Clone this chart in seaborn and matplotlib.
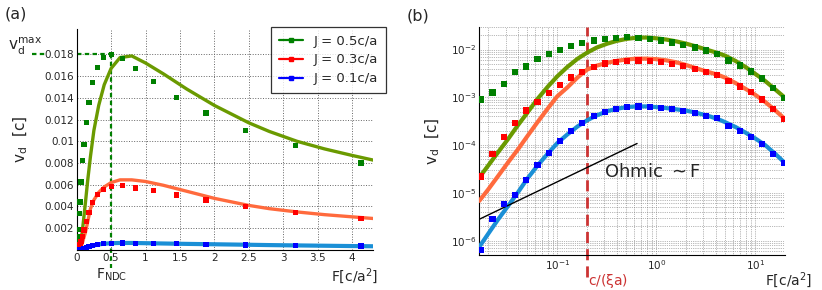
import numpy as np
import matplotlib
matplotlib.use('Agg')
import matplotlib.pyplot as plt
import matplotlib.transforms as mtransforms
from matplotlib.lines import Line2D
from matplotlib.ticker import FuncFormatter, FixedLocator
import seaborn as sns

# simulated points (same F grid for the three couplings)
F_pts = [0.0171, 0.0222, 0.0288, 0.0374, 0.0485, 0.0630, 0.0818, 0.106, 0.138, 0.179,
         0.233, 0.302, 0.393, 0.510, 0.662, 0.860, 1.12, 1.45, 1.88, 2.45,
         3.18, 4.13, 5.36, 6.96, 9.04, 11.7, 15.2, 19.8]
green_pts = [9.0e-4, 1.26e-3, 1.89e-3, 3.36e-3, 4.42e-3, 6.25e-3, 8.2e-3, 9.7e-3, 0.0117, 0.0136,
             0.0154, 0.0168, 0.0177, 0.0180, 0.0176, 0.0167, 0.0155, 0.0140, 0.0126, 0.0110,
             0.0096, 0.0080, 0.0059, 0.00463, 0.00347, 0.00248, 0.00159, 0.00096]
red_pts = [2.2e-5, 6.5e-5, 1.5e-4, 2.95e-4, 5.3e-4, 7.9e-4, 1.25e-3, 1.83e-3, 2.6e-3, 3.42e-3,
           4.35e-3, 5.1e-3, 5.55e-3, 5.85e-3, 5.9e-3, 5.7e-3, 5.45e-3, 5.05e-3, 4.6e-3, 3.97e-3,
           3.44e-3, 2.9e-3, 2.22e-3, 1.69e-3, 1.29e-3, 9.0e-4, 5.77e-4, 3.57e-4]
blue_pts = [6.4e-7, 2.8e-6, 5.75e-6, 9.0e-6, 1.89e-5, 3.77e-5, 6.9e-5, 1.21e-4, 1.94e-4, 2.9e-4,
            3.99e-4, 4.91e-4, 5.67e-4, 6.3e-4, 6.45e-4, 6.24e-4, 5.94e-4, 5.67e-4, 5.15e-4, 4.61e-4,
            4.13e-4, 3.68e-4, 2.51e-4, 1.94e-4, 1.48e-4, 1.05e-4, 6.4e-5, 4.2e-5]

# theory curves
curve_F = [0.0163, 0.02, 0.025, 0.032, 0.04, 0.05, 0.063, 0.08, 0.1, 0.126,
           0.16, 0.2, 0.25, 0.32, 0.4, 0.5, 0.63, 0.8, 1.0, 1.26,
           1.6, 2.0, 2.5, 2.8, 3.2, 3.6, 4.0, 4.5, 5.0, 6.3,
           8.0, 10.0, 12.6, 16.0, 20.0]
green_curve = [2.1e-5, 3.7e-5, 6.9e-5, 1.36e-4, 2.6e-4, 4.8e-4, 9.2e-4, 1.66e-3, 2.75e-3, 4.3e-3,
               6.4e-3, 8.6e-3, 1.1e-2, 1.33e-2, 1.52e-2, 1.67e-2, 1.77e-2, 1.785e-2, 1.72e-2, 1.62e-2,
               1.48e-2, 1.33e-2, 1.17e-2, 1.09e-2, 1.00e-2, 9.3e-3, 8.7e-3, 8.0e-3, 7.4e-3, 5.8e-3,
               4.3e-3, 3.1e-3, 2.2e-3, 1.45e-3, 9.8e-4]
red_curve = [6.8e-6, 1.17e-5, 2.19e-5, 4.4e-5, 8.1e-5, 1.55e-4, 3.0e-4, 5.8e-4, 1.05e-3, 1.6e-3,
             2.6e-3, 3.8e-3, 4.6e-3, 5.3e-3, 5.8e-3, 6.2e-3, 6.45e-3, 6.45e-3, 6.3e-3, 5.95e-3,
             5.4e-3, 4.75e-3, 4.1e-3, 3.8e-3, 3.5e-3, 3.25e-3, 3.05e-3, 2.8e-3, 2.57e-3, 2.0e-3,
             1.5e-3, 1.13e-3, 8.0e-4, 5.3e-4, 3.5e-4]
blue_curve = [7.4e-7, 1.38e-6, 2.7e-6, 5.4e-6, 1.02e-5, 2.0e-5, 3.7e-5, 6.6e-5, 1.1e-4, 1.66e-4,
              2.45e-4, 3.3e-4, 4.17e-4, 5.13e-4, 5.75e-4, 6.24e-4, 6.45e-4, 6.45e-4, 6.24e-4, 5.96e-4,
              5.6e-4, 5.25e-4, 4.8e-4, 4.5e-4, 4.2e-4, 3.9e-4, 3.6e-4, 3.3e-4, 3.0e-4, 2.4e-4,
              1.82e-4, 1.38e-4, 1.0e-4, 6.5e-5, 4.2e-5]

ohmic_F = [0.0163, 0.64]
ohmic_v = [2.8e-6, 1.08e-4]
F_cross = 0.2  # c/(xi a)

labels = ['J = 0.5c/a', 'J = 0.3c/a', 'J = 0.1c/a']
pt_colors = ['#008000', '#ff0000', '#0000ff']
cv_colors = ['#6a9a00', '#ff6a3d', '#1a8fd6']
pts = [green_pts, red_pts, blue_pts]
curves = [green_curve, red_curve, blue_curve]

sns.set_style('white')
plt.rcParams['font.family'] = ['DejaVu Sans']
plt.rcParams['mathtext.fontset'] = 'dejavusans'

fig = plt.figure(figsize=(8.22, 2.90), dpi=100)
ax1 = fig.add_axes([0.0933, 0.138, 0.360, 0.761])
ax2 = fig.add_axes([0.5831, 0.1207, 0.3719, 0.787])

for ax in (ax1, ax2):
    ax.spines[['top', 'right']].set_visible(False)
    for s in ('left', 'bottom'):
        ax.spines[s].set_color('black')
        ax.spines[s].set_linewidth(0.8)

# ---- (a) linear
for c, p, cc, pc, lw in zip(curves, pts, cv_colors, pt_colors, [2.4, 2.4, 3.0]):
    sns.lineplot(x=curve_F, y=c, color=cc, lw=lw, ax=ax1, zorder=3)
    sns.scatterplot(x=F_pts, y=p, marker='s', s=14, color=pc, edgecolor='none', ax=ax1, zorder=4)

ax1.set_xlim(0, 4.3)
ax1.set_ylim(0, 0.0203)
ax1.xaxis.set_major_locator(FixedLocator(np.arange(0, 4.01, 0.5)))
ax1.yaxis.set_major_locator(FixedLocator(np.arange(0.002, 0.0181, 0.002)))
fmt = FuncFormatter(lambda v, p: f'{v:g}')
ax1.xaxis.set_major_formatter(fmt)
ax1.yaxis.set_major_formatter(fmt)
ax1.tick_params(labelsize=7.5, direction='in', length=2.5, width=0.6, pad=2)
ax1.grid(True, linestyle=':', color='0.4', lw=0.7)
ax1.set_xlabel('')
ax1.set_ylabel(r'$\mathrm{v_d}\ \ [\mathrm{c}]$', fontsize=11)
ax1.yaxis.set_label_coords(-0.158, 0.5)

i_max = int(np.argmax(green_pts))
vmax = green_pts[i_max]
F_ndc = 0.5
ax1.plot([0, F_ndc], [vmax, vmax], ls='--', color='#008000', lw=1.6, dashes=(2, 1.5), zorder=2)
ax1.plot([F_ndc, F_ndc], [vmax, -0.0017], ls='--', color='#008000', lw=1.6, dashes=(2, 1.5),
         clip_on=False, zorder=2)
blend1 = mtransforms.blended_transform_factory(ax1.transAxes, ax1.transData)
ax1.plot([-0.151, -0.107], [vmax, vmax], ls='--', color='#008000', lw=1.6, dashes=(2, 1.5),
         transform=blend1, clip_on=False)
ax1.annotate(r'$\mathrm{v_d^{max}}$', xy=(-0.118, vmax), xycoords=blend1,
             xytext=(0, 6), textcoords='offset points', ha='right', va='center', fontsize=11)
blend1x = mtransforms.blended_transform_factory(ax1.transData, ax1.transAxes)
ax1.text(F_ndc, -0.113, r'$\mathrm{F_{NDC}}$', transform=blend1x, ha='center', va='center', fontsize=10)
ax1.text(1.018, -0.118, r'$\mathrm{F[c/a^2]}$', transform=ax1.transAxes, ha='right', va='center',
         fontsize=10)
ax1.text(-0.243, 1.07, '(a)', transform=ax1.transAxes, ha='left', va='center', fontsize=11.5)

handles = [Line2D([], [], color=pc, marker='s', markersize=3.5, lw=1.6) for pc in pt_colors]
leg = ax1.legend(handles, labels, loc='upper right', bbox_to_anchor=(1.045, 1.012),
                 borderaxespad=0, fontsize=9.5, frameon=True, fancybox=False,
                 edgecolor='black', handlelength=1.8, labelspacing=0.45, borderpad=0.6)
leg.get_frame().set_linewidth(0.9)
leg.set_zorder(6)

# ---- (b) log-log
ax2.set_xscale('log')
ax2.set_yscale('log')
for c, p, cc, pc in zip(curves, pts, cv_colors, pt_colors):
    sns.lineplot(x=curve_F, y=c, color=cc, lw=3.0, ax=ax2, zorder=3)
    sns.scatterplot(x=F_pts, y=p, marker='s', s=20, color=pc, edgecolor='none', ax=ax2, zorder=4)
sns.lineplot(x=ohmic_F, y=ohmic_v, color='black', lw=1.0, ax=ax2, zorder=3)
ax2.axvline(F_cross, ymin=-0.097, ymax=1, color='#cc3333', lw=2.0, dashes=(4, 2.2),
            clip_on=False, zorder=2)

ax2.set_xlim(0.0163, 20)
ax2.set_ylim(5e-7, 0.03)
ax2.tick_params(which='both', labelsize=7.5, direction='in', width=0.6, pad=2)
ax2.tick_params(which='major', length=2.5)
ax2.tick_params(which='minor', length=1.5)
ax2.grid(True, which='both', linestyle=':', color='0.45', lw=0.5)
ax2.set_xlabel('')
ax2.set_ylabel(r'$\mathrm{v_d}\ \ [\mathrm{c}]$', fontsize=11)
ax2.yaxis.set_label_coords(-0.122, 0.5)

ax2.text(0.30, 2.7e-5, r'Ohmic $\sim$F', ha='left', va='center', fontsize=13, zorder=5)
blend2x = mtransforms.blended_transform_factory(ax2.transData, ax2.transAxes)
ax2.text(F_cross * 1.03, -0.115, r'$\mathrm{c/(\xi a)}$', transform=blend2x, ha='left',
         va='center', fontsize=10, color='#cc3333')
ax2.text(1.088, -0.11, r'$\mathrm{F[c/a^2]}$', transform=ax2.transAxes, ha='right', va='center',
         fontsize=10)
ax2.text(-0.237, 1.045, '(b)', transform=ax2.transAxes, ha='left', va='center', fontsize=11.5)

fig.savefig('out.png', dpi=100)
